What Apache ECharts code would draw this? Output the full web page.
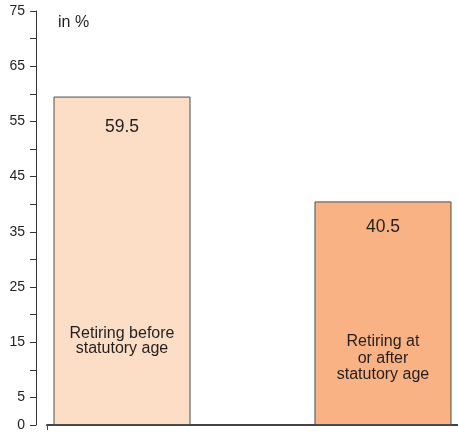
<!DOCTYPE html>
<html>
<head>
<meta charset="utf-8">
<script src="https://cdn.jsdelivr.net/npm/echarts@6/dist/echarts.min.js"></script>
<style>html,body{margin:0;padding:0;background:#fff}#c{width:458px;height:437px}</style>
</head>
<body>
<div id="c"></div>
<script>
const categories = ['Retiring before\nstatutory age', 'Retiring at\nor after\nstatutory age'];
const beforeValues = [59.5, null];
const afterValues = [null, 40.5];
const yLabelValues = [0, 5, 15, 25, 35, 45, 55, 65, 75];
const unitText = 'in %';

const numFont = '"Liberation Sans", Arial, sans-serif';
const txtFont = '"Liberation Sans", Arial, sans-serif';

function makeLabel(distance, gap, lh) {
  return {
    show: true,
    position: 'insideTop',
    distance: distance,
    formatter: function (p) {
      return '{v|' + p.value + '}\n{g|}\n{c|' + p.name + '}';
    },
    rich: {
      v: { fontFamily: numFont, fontSize: 17.5, lineHeight: 22, color: '#231f20', align: 'center' },
      g: { height: gap, lineHeight: gap },
      c: { fontFamily: txtFont, fontSize: 16, lineHeight: lh, color: '#231f20', align: 'center' }
    }
  };
}

const chart = echarts.init(document.getElementById('c'), null, { renderer: 'canvas' });
chart.setOption({
  animation: false,
  backgroundColor: '#fff',
  title: {
    text: unitText, left: 53, top: 10,
    textStyle: { fontFamily: txtFont, fontSize: 16, fontWeight: 'normal', color: '#231f20' }
  },
  grid: { left: 47, right: 0, top: 11, bottom: 12, containLabel: false },
  xAxis: {
    type: 'category',
    data: categories,
    offset: 7.5,
    axisLine: { show: true, lineStyle: { color: '#444', width: 2 } },
    axisTick: { show: true, length: 5, inside: false, interval: function (i) { return i === 0; }, lineStyle: { color: '#444', width: 1 } },
    axisLabel: { show: false },
    splitLine: { show: false }
  },
  yAxis: {
    type: 'value',
    min: 0, max: 75, interval: 5,
    offset: 11,
    axisLine: { show: true, lineStyle: { color: '#333', width: 1 } },
    axisTick: { show: true, length: 6, inside: false, lineStyle: { color: '#333', width: 1 } },
    axisLabel: {
      margin: 11,
      fontFamily: numFont, fontSize: 14, color: '#231f20',
      formatter: function (v) { return yLabelValues.indexOf(v) >= 0 ? String(v) : ''; }
    },
    splitLine: { show: false }
  },
  series: [
    {
      type: 'bar', data: beforeValues, barWidth: 137, barGap: '-59.5%',
      itemStyle: { color: '#fcdec6', borderColor: '#4d4d4d', borderWidth: 1 },
      label: makeLabel(20, 188, 15)
    },
    {
      type: 'bar', data: afterValues, barWidth: 137,
      itemStyle: { color: '#f9b283', borderColor: '#4d4d4d', borderWidth: 1 },
      label: makeLabel(15, 95, 16.5)
    }
  ]
});
</script>
</body>
</html>
